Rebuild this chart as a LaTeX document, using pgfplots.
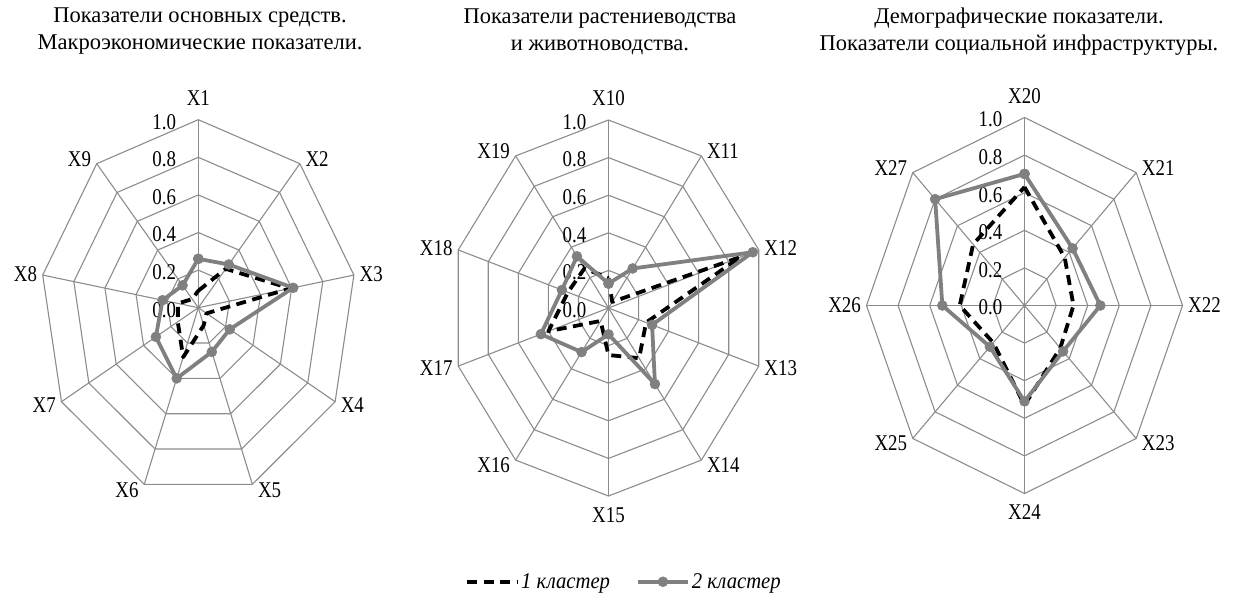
\documentclass[border=0pt]{standalone}
\usepackage{pgfplots}
\pgfplotsset{compat=1.18}
\usepackage{pgfplotstable}
\usepackage{fontspec}
\setmainfont{Liberation Serif}[FakeStretch=0.84]
\newfontfamily\titlefont{Liberation Serif}
\newfontfamily\legendfont{Liberation Serif}[FakeStretch=0.92]
\definecolor{gridgray}{RGB}{140,140,140}
\definecolor{sergray}{RGB}{128,128,128}

% angle, cluster 1, cluster 2
\pgfplotstableread{
a v1 v2
90 0.09 0.26
50 0.27 0.30
10 0.59 0.61
-30 0.06 0.23
-70 0.10 0.25
-110 0.28 0.40
-150 0.15 0.31
-190 0.13 0.23
-230 0.06 0.155
-270 0.09 0.26
}\tableA
\pgfplotstableread{
a v1 v2
90 0.16 0.13
54 0.04 0.26
18 0.88 0.96
-18 0.25 0.29
-54 0.33 0.50
-90 0.25 0.14
-126 0.085 0.29
-162 0.40 0.45
-198 0.27 0.31
-234 0.26 0.34
-270 0.16 0.13
}\tableB
\pgfplotstableread{
a v1 v2
90 0.63 0.70
45 0.36 0.43
0 0.31 0.48
-45 0.32 0.345
-90 0.53 0.51
-135 0.28 0.31
-180 0.41 0.52
-225 0.46 0.80
-270 0.63 0.70
}\tableC

\pgfplotsset{
  c1/.style={black, line width=3.8pt, dash pattern=on 10pt off 6.5pt, line join=round, no markers},
  c2/.style={sergray, line width=3.8pt, line join=round, mark=*, mark size=5pt,
     mark options={solid, fill=sergray, draw=sergray, line width=0.5pt}},
  radar/.style={x=158pt, y=188pt, xmin=-1.2, xmax=1.2, ymin=-1.2, ymax=1.2,
     hide axis, clip=false, anchor=origin},
}

\newcommand\radarbg[3]{%
\begin{scope}[shift={#1}, x=158pt, y=188pt]
  \foreach \r in {0.2,0.4,0.6,0.8,1.0}{\draw[gridgray,line width=1.1pt] (90:\r) \foreach \t in {#2}{ -- (\t:\r)} -- cycle;}
  \foreach \t in {90,#2} \draw[gridgray,line width=1.1pt] (0,0) -- (\t:1);
  \foreach \r/\l in {0/0.0,0.2/0.2,0.4/0.4,0.6/0.6,0.8/0.8,1/1.0}
     \node[anchor=east,inner sep=0,xshift=-22pt,yshift=-2pt] at (0,\r) {\l};
  \foreach \t/\n in {#3}{%
    \pgfmathsetmacro\c{cos(\t)}%
    \pgfmathsetmacro\s{sin(\t)}%
    \pgfmathtruncatemacro\side{\c>0.01 ? 1 : (\c<-0.01 ? -1 : 0)}%
    \ifnum\side=1 \node[anchor=west,inner sep=0,xshift=5.5pt,yshift={6*\s pt}] at (\t:1) {\n};\fi
    \ifnum\side=-1 \node[anchor=east,inner sep=0,xshift=-5.5pt,yshift={6*\s pt}] at (\t:1) {\n};\fi
    \ifnum\side=0
      \ifdim\s pt>0pt \node[anchor=south,inner sep=0,yshift=14pt] at (\t:1) {\n};%
      \else \node[anchor=north,inner sep=0,yshift=-11pt] at (\t:1) {\n};\fi
    \fi
  }
\end{scope}}

\begin{document}
\begin{tikzpicture}[font=\fontsize{22.5}{27}\selectfont]
\useasboundingbox (0,0) rectangle (1238pt,-597pt);

% titles
\node[align=center,inner sep=0,font=\fontsize{22.5}{27}\titlefont] at (200pt,-31.5pt) {Показатели основных средств.\\Макроэкономические показатели.};
\node[align=center,inner sep=0,font=\fontsize{22.5}{27}\titlefont] at (600pt,-31.5pt) {Показатели растениеводства\\и животноводства.};
\node[align=center,inner sep=0,font=\fontsize{22.5}{27}\titlefont] at (1019pt,-31.5pt) {Демографические показатели.\\Показатели социальной инфраструктуры.};

\radarbg{(198.3pt,-307.7pt)}{50,10,-30,-70,-110,-150,-190,-230}{90/X1,50/X2,10/X3,-30/X4,-70/X5,-110/X6,-150/X7,-190/X8,-230/X9}
\radarbg{(608.5pt,-308pt)}{54,18,-18,-54,-90,-126,-162,-198,-234}{90/X10,54/X11,18/X12,-18/X13,-54/X14,-90/X15,-126/X16,-162/X17,-198/X18,-234/X19}
\radarbg{(1024.5pt,-305.5pt)}{45,0,-45,-90,-135,-180,-225}{90/X20,45/X21,0/X22,-45/X23,-90/X24,-135/X25,-180/X26,-225/X27}

\begin{axis}[radar, at={(198.3pt,-307.7pt)}]
\addplot[c1] table[x expr={\thisrow{v1}*cos(\thisrow{a})}, y expr={\thisrow{v1}*sin(\thisrow{a})}] {\tableA};
\addplot[c2] table[x expr={\thisrow{v2}*cos(\thisrow{a})}, y expr={\thisrow{v2}*sin(\thisrow{a})}] {\tableA};
\end{axis}

\begin{axis}[radar, at={(608.5pt,-308pt)},
  legend columns=2,
  legend style={at={(0.541,-0.1067)}, anchor=center, draw=none, fill=none,
     font=\fontsize{22.5}{27}\legendfont\itshape,
     /tikz/every even column/.append style={column sep=24pt}},
  legend image code/.code={\draw[mark repeat=2,mark phase=2,#1] plot coordinates {(0pt,0pt) (25pt,0pt) (50pt,0pt)};}]
\addplot[c1] table[x expr={\thisrow{v1}*cos(\thisrow{a})}, y expr={\thisrow{v1}*sin(\thisrow{a})}] {\tableB};
\addlegendentry{1 кластер}
\addplot[c2] table[x expr={\thisrow{v2}*cos(\thisrow{a})}, y expr={\thisrow{v2}*sin(\thisrow{a})}] {\tableB};
\addlegendentry{2 кластер}
\end{axis}

\begin{axis}[radar, at={(1024.5pt,-305.5pt)}]
\addplot[c1] table[x expr={\thisrow{v1}*cos(\thisrow{a})}, y expr={\thisrow{v1}*sin(\thisrow{a})}] {\tableC};
\addplot[c2] table[x expr={\thisrow{v2}*cos(\thisrow{a})}, y expr={\thisrow{v2}*sin(\thisrow{a})}] {\tableC};
\end{axis}
\end{tikzpicture}
\end{document}
